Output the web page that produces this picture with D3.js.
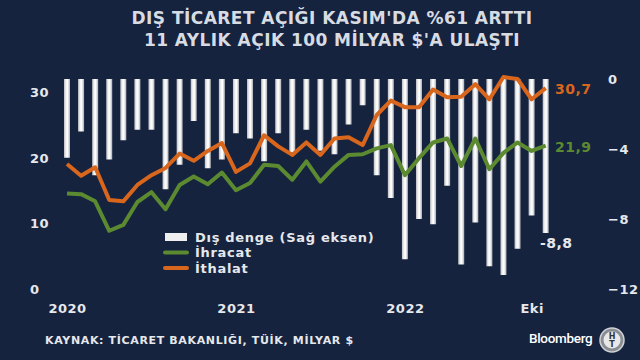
<!DOCTYPE html>
<html><head><meta charset="utf-8">
<script src="https://cdn.jsdelivr.net/npm/d3@7"></script>
<style>
html,body{margin:0;padding:0;background:#15233f;}
svg{display:block;}
text{font-family:"DejaVu Sans",Verdana,sans-serif;font-weight:bold;}
</style></head>
<body>
<script>
const months = ["2020-01","2020-02","2020-03","2020-04","2020-05","2020-06","2020-07","2020-08","2020-09","2020-10","2020-11","2020-12",
"2021-01","2021-02","2021-03","2021-04","2021-05","2021-06","2021-07","2021-08","2021-09","2021-10","2021-11","2021-12",
"2022-01","2022-02","2022-03","2022-04","2022-05","2022-06","2022-07","2022-08","2022-09","2022-10","2022-11"];
const balance = [-4.5,-3.0,-5.5,-4.6,-3.5,-2.9,-2.9,-6.3,-4.9,-2.4,-5.1,-4.6,
-3.1,-3.4,-4.7,-3.1,-4.2,-2.9,-4.1,-4.3,-2.6,-1.5,-5.5,-6.8,
-10.3,-8.0,-8.3,-6.1,-10.6,-8.2,-10.7,-11.2,-9.7,-7.8,-8.8];
const exports_ = [14.6,14.5,13.4,8.9,9.8,13.3,14.8,12.2,15.9,17.2,16.0,17.8,
15.1,16.2,19.0,18.8,16.7,19.5,16.4,18.7,20.5,20.6,21.5,22.0,
17.4,20.0,22.4,23.0,18.8,23.0,18.3,20.8,22.4,21.1,21.9];
const imports_ = [19.1,17.3,18.6,13.6,13.4,15.9,17.4,18.5,20.7,19.6,21.1,22.3,
17.9,19.2,23.5,21.8,20.5,22.4,20.5,23.0,23.2,22.0,26.6,28.8,
27.8,27.8,30.5,29.3,29.4,31.3,29.0,32.4,32.1,29.0,30.7];
const leftTicks = [0,10,20,30];
const rightTicks = [0,-4,-8,-12];
const xLabels = [["2020-01","2020"],["2021-01","2021"],["2022-01","2022"],["2022-10","Eki"]];
const titleLines = ["DIŞ TİCARET AÇIĞI KASIM'DA %61 ARTTI","11 AYLIK AÇIK 100 MİLYAR $'A ULAŞTI"];
const legendItems = [["bar","Dış denge (Sağ eksen)"],["exp","İhracat"],["imp","İthalat"]];
const source = "KAYNAK: TİCARET BAKANLIĞI, TÜİK, MİLYAR $";

const W=640,H=360;
const GREEN="#5b8a30", ORANGE="#d8661c", TXT="#e6e8ec";
const svg=d3.select("body").append("svg").attr("width",W).attr("height",H);
svg.append("rect").attr("width",W).attr("height",H).attr("fill","#15233f");

const defs=svg.append("defs");
const g1=defs.append("linearGradient").attr("id","barg").attr("x1","0").attr("x2","1").attr("y1","0").attr("y2","0");
g1.append("stop").attr("offset","0").attr("stop-color","#b9bcc2");
g1.append("stop").attr("offset","0.35").attr("stop-color","#f4f4f4");
g1.append("stop").attr("offset","0.6").attr("stop-color","#ffffff");
g1.append("stop").attr("offset","1").attr("stop-color","#a9acb3");

const x=d3.scalePoint().domain(months).range([67,545.7]);
const yL=d3.scaleLinear().domain([0,32.1]).range([289,79]);
const yR=d3.scaleLinear().domain([-12,0]).range([289,79]);
const bw=6;

// title
svg.append("g").selectAll("text").data(titleLines).join("text")
  .attr("x",332).attr("y",(d,i)=>24+i*22).attr("text-anchor","middle")
  .attr("fill","#d8dce2").attr("font-size",17).attr("letter-spacing","0.45").text(d=>d);

// bars
svg.append("g").selectAll("rect").data(balance).join("rect")
  .attr("x",(d,i)=>x(months[i])-bw/2).attr("width",bw)
  .attr("y",yR(0)).attr("height",d=>yR(d)-yR(0))
  .attr("fill","url(#barg)");

// lines
const line=d3.line().x((d,i)=>x(months[i])).y(d=>yL(d));
svg.append("path").datum(exports_).attr("d",line).attr("fill","none")
  .attr("stroke",GREEN).attr("stroke-width",4).attr("stroke-linejoin","round");
svg.append("path").datum(imports_).attr("d",line).attr("fill","none")
  .attr("stroke",ORANGE).attr("stroke-width",4).attr("stroke-linejoin","round");

// left axis
const la=svg.append("g").attr("transform","translate(30,0)")
  .call(d3.axisLeft(yL).tickValues(leftTicks).tickSize(0).tickFormat(d3.format("d")));
la.select(".domain").remove();
la.selectAll("text").attr("x",0).attr("text-anchor","start").attr("fill",TXT)
  .attr("font-size",13).attr("letter-spacing","0.5");

// right axis
const ra=svg.append("g").attr("transform","translate(608,0)")
  .call(d3.axisRight(yR).tickValues(rightTicks).tickSize(0).tickFormat(d3.format("d")));
ra.select(".domain").remove();
ra.selectAll("text").attr("x",0).attr("text-anchor","start").attr("fill",TXT)
  .attr("font-size",13).attr("letter-spacing","0.5");

// x labels
const xa=svg.append("g").attr("transform","translate(0,301)")
  .call(d3.axisBottom(x).tickValues(xLabels.map(d=>d[0])).tickSize(0)
    .tickFormat(d=>xLabels.find(e=>e[0]===d)[1]));
xa.select(".domain").remove();
xa.selectAll("text").attr("fill",TXT).attr("font-size",13).attr("letter-spacing","0.5");

// end labels
const fmt=v=>String(v).replace(".",",");
const n=months.length-1;
svg.append("text").attr("x",555).attr("y",yL(imports_[n])+1).attr("dy","0.35em")
  .attr("fill",ORANGE).attr("font-size",14).attr("letter-spacing","0.5").text(fmt(imports_[n]));
svg.append("text").attr("x",555).attr("y",yL(exports_[n])+1).attr("dy","0.35em")
  .attr("fill",GREEN).attr("font-size",14).attr("letter-spacing","0.5").text(fmt(exports_[n]));
svg.append("text").attr("x",540).attr("y",yR(balance[n])+10).attr("dy","0.35em")
  .attr("fill",TXT).attr("font-size",14).attr("letter-spacing","0.5").text(fmt(balance[n]));

// legend
const lg=svg.append("g").attr("transform","translate(165,237)");
legendItems.forEach((d,i)=>{
  const gy=i*15.5;
  if(d[0]==="bar"){
    lg.append("rect").attr("x",0).attr("y",gy-4).attr("width",22).attr("height",8).attr("fill","#eeeeee");
  } else {
    lg.append("line").attr("x1",0).attr("x2",22).attr("y1",gy).attr("y2",gy)
      .attr("stroke",d[0]==="exp"?GREEN:ORANGE).attr("stroke-width",4).attr("stroke-linecap","round");
  }
  lg.append("text").attr("x",30).attr("y",gy).attr("dy","0.35em").attr("fill",TXT)
    .attr("font-size",13).attr("letter-spacing","0.7").text(d[1]);
});

// source
svg.append("text").attr("x",45).attr("y",344).attr("fill",TXT).attr("font-size",11)
  .attr("letter-spacing","0.65").text(source);

// branding
svg.append("text").attr("x",529).attr("y",343).attr("fill","#ffffff")
  .style("font-family","Roboto, 'Liberation Sans', Arial, sans-serif").style("font-weight","500")
  .attr("font-size",13.5).attr("letter-spacing","-0.3").text("Bloomberg");
const lgo=svg.append("g").attr("transform","translate(612,340)");
lgo.append("circle").attr("r",12).attr("fill","#8a8d92").attr("stroke","#d0d2d6").attr("stroke-width",1.5);
lgo.append("circle").attr("r",8.5).attr("fill","#e8e8e8");
lgo.append("text").attr("y",-1).attr("text-anchor","middle").attr("font-size",8).attr("fill","#333").text("H");
lgo.append("text").attr("y",7).attr("text-anchor","middle").attr("font-size",8).attr("fill","#333").text("T");
</script>
</body></html>
